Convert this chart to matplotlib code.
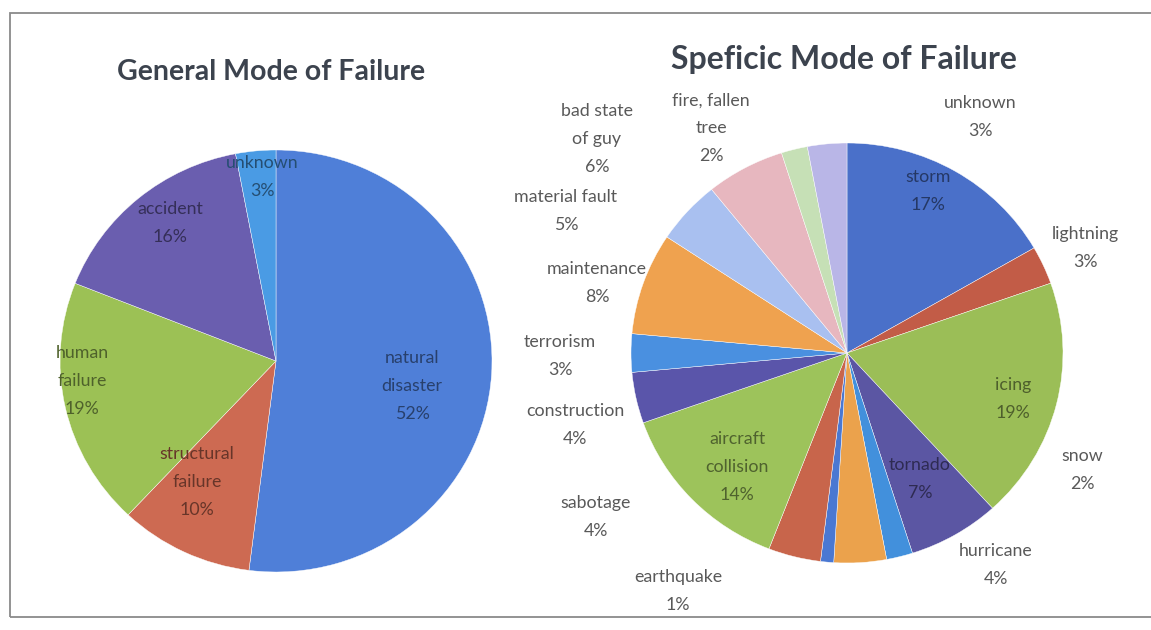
import numpy as np
import matplotlib.pyplot as plt
from matplotlib.colors import to_rgb
from matplotlib.patches import Rectangle

plt.rcParams['font.family'] = ['Lato', 'DejaVu Sans']

# general mode of failure
gen_labels = ['natural\ndisaster', 'structural\nfailure', 'human\nfailure', 'accident', 'unknown']
gen_pct = [52, 10, 19, 16, 3]
gen_colors = ['#4f7fd8', '#cd6a52', '#9cc155', '#6a5eaf', '#4a9be4']

# specific mode of failure
spec_labels = ['storm', 'lightning', 'icing', 'tornado', 'snow', 'hurricane', 'earthquake',
               'sabotage', 'aircraft\ncollision', 'construction', 'terrorism', 'maintenance',
               'material fault', 'bad state\nof guy', 'fire, fallen\ntree', 'unknown']
spec_pct = [17, 3, 19, 7, 2, 4, 1, 4, 14, 4, 3, 8, 5, 6, 2, 3]
spec_colors = ['#4a70c9', '#c25c47', '#9bbe57', '#5b56a3', '#4290dc', '#eba24c', '#4a78d2',
               '#c8654b', '#9dc35b', '#5a55aa', '#4a90e0', '#efa24f', '#a9c0f0', '#e7b7bf',
               '#c6e0b6', '#b9b6e7']

W, H = 1151, 630
fig = plt.figure(figsize=(W / 100, H / 100), dpi=100)
fig.patch.set_facecolor('white')

# frame round the chart
fig.patches.append(Rectangle((10 / W, 13 / H), 1.2, (617 - 13) / H, transform=fig.transFigure,
                             fill=False, edgecolor='#8a8a8a', linewidth=1.3))


def pie_axes(cx, cy, rx, ry):
    ax = fig.add_axes([(cx - rx) / W, (H - cy - ry) / H, 2 * rx / W, 2 * ry / H])
    return ax


def to_ax(px, py, cx, cy, rx, ry):
    return (px - cx) / rx, (cy - py) / ry


def dark(c):
    return tuple(np.array(to_rgb(c)) * 0.5)


# left pie
L = (276, 361, 216, 211)
ax1 = pie_axes(*L)
ax1.pie(gen_pct, colors=gen_colors, startangle=90, counterclock=False,
        wedgeprops=dict(edgecolor='white', linewidth=0.3))
ax1.set_aspect('auto')
ax1.set_xlim(-1, 1)
ax1.set_ylim(-1, 1)
ax1.axis('off')

gen_pos = [(412, 386), (197, 482), (82, 381), (170, 223), (262, 177)]
for lab, p, c, (px, py) in zip(gen_labels, gen_pct, gen_colors, gen_pos):
    x, y = to_ax(px, py, *L)
    ax1.text(x, y, '%s\n%d%%' % (lab, p), ha='center', va='center', fontsize=12.8,
             color=dark(c), linespacing=1.9, clip_on=False)

fig.text(271 / W, 1 - 72 / H, 'General Mode of Failure', ha='center', va='center',
         fontsize=20.5, fontweight='bold', color='#3c434e')

# right pie
R = (847, 353, 216, 210)
ax2 = pie_axes(*R)
ax2.pie(spec_pct, colors=spec_colors, startangle=90, counterclock=False,
        wedgeprops=dict(edgecolor='white', linewidth=0.3))
ax2.set_aspect('auto')
ax2.set_xlim(-1, 1)
ax2.set_ylim(-1, 1)
ax2.axis('off')

spec_pos = [(928, 191), (1085, 248), (1013, 399), (920, 479), (1082, 470), (996, 565),
            (678, 591), (596, 517), (737, 467), (575, 425), (560, 356), (597, 283),
            (566, 211), (597, 139), (711, 128), (980, 117)]
inside = ['storm', 'icing', 'tornado', 'aircraft\ncollision']
for lab, p, c, (px, py) in zip(spec_labels, spec_pct, spec_colors, spec_pos):
    x, y = to_ax(px, py, *R)
    col = dark(c) if lab in inside else '#595959'
    ax2.text(x, y, '%s\n%d%%' % (lab, p), ha='center', va='center', fontsize=12.8,
             color=col, linespacing=1.9, clip_on=False)

fig.text(844 / W, 1 - 60 / H, 'Speficic Mode of Failure', ha='center', va='center',
         fontsize=23, fontweight='bold', color='#3c434e')

fig.savefig('out.png', dpi=100)
